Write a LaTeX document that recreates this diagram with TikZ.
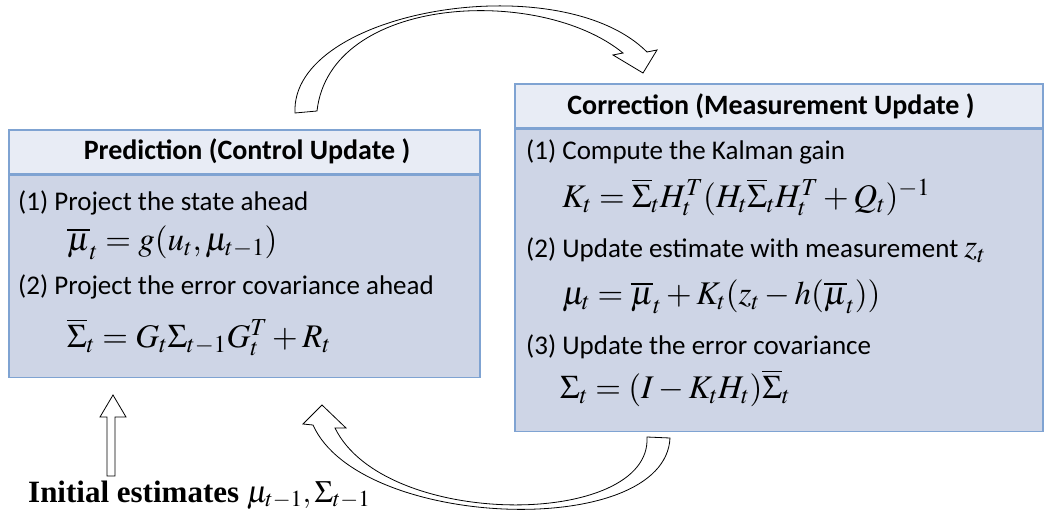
\documentclass[tikz,border=0pt]{standalone}
\usepackage{mathptmx}
\usepackage[no-math]{fontspec}
\newfontfamily\calib{Carlito}
\newfontfamily\timesrm{Liberation Serif}
\definecolor{boxline}{HTML}{7FA3D2}
\definecolor{headfill}{HTML}{E8ECF5}
\definecolor{bodyfill}{HTML}{CED5E6}
\tikzset{
  headbox/.style={draw=boxline,fill=headfill,line width=1.5pt,anchor=north west,inner sep=0pt},
  bodybox/.style={draw=boxline,fill=bodyfill,line width=1.5pt,anchor=north west,inner sep=0pt},
  headtext/.style={font=\calib\bfseries\fontsize{28}{31}\selectfont,inner sep=0pt},
  linetext/.style={font=\calib\fontsize{27}{30}\selectfont,anchor=west,inner sep=0pt},
  eqtext/.style={font=\fontsize{33}{36}\selectfont,anchor=west,inner sep=0pt},
  blockarrow/.style={draw=black,fill=white,line width=0.8pt,line join=miter},
}
\begin{document}
\begin{tikzpicture}[x=1pt,y=-1pt]
	\useasboundingbox (0,0) rectangle (1044,528);
	% prediction box
	\node[headbox,minimum width=471,minimum height=44] (predhead) at (8,129) {};
	\node[bodybox,minimum width=471,minimum height=202] (predbody) at (predhead.south west) {};
	\node[headtext] (predtitle) at (247,151) {Prediction (Control Update )};
	\node[linetext] (pred1) at (18,203) {(1) Project the state ahead};
	\node[eqtext] (predeq1) at (67,243) {$\overline{\mu}_t = g(u_t,\mu_{t-1})$};
	\node[linetext] (pred2) at (18,287) {(2) Project the error covariance ahead};
	\node[eqtext] (predeq2) at (67,337) {$\overline{\Sigma}_t = G_t\Sigma_{t-1}G_t^T + R_t$};
	% correction box
	\node[headbox,minimum width=528,minimum height=44] (corrhead) at (514,83) {};
	\node[bodybox,minimum width=528,minimum height=302] (corrbody) at (corrhead.south west) {};
	\node[headtext] (corrtitle) at (771,106) {Correction (Measurement Update )};
	\node[linetext] (corr1) at (526,152) {(1) Compute the Kalman gain};
	\node[eqtext] (correq1) at (562,197) {$K_t = \overline{\Sigma}_t H_t^T(H_t\overline{\Sigma}_t H_t^T + Q_t)^{-1}$};
	\node[linetext] (corr2) at (526,250) {(2) Update estimate with measurement {\fontsize{33}{36}\selectfont$z_t$}};
	\node[eqtext] (correq2) at (562,297) {$\mu_t = \overline{\mu}_t + K_t(z_t - h(\overline{\mu}_t))$};
	\node[linetext] (corr3) at (526,347) {(3) Update the error covariance};
	\node[eqtext] (correq3) at (560,388) {$\Sigma_t = (I - K_tH_t)\overline{\Sigma}_t$};
	% initial estimates
	\node[font=\timesrm\bfseries\fontsize{31}{34}\selectfont,anchor=west,inner sep=0pt] (init) at (28,495)
		{Initial estimates {\boldmath$\mu_{t-1},\Sigma_{t-1}$}};
	\draw[blockarrow] (107,476) -- (107,417) -- (100,417) -- (113,395) -- (126,417) -- (115,417) -- (115,476) -- cycle;
	% curved arrows
	\draw[blockarrow] (295,113) .. controls (290,10) and (560,-35) .. (647,52)
		-- (657,50) -- (643,73) -- (613,55) -- (623,53)
		.. controls (540,-15) and (330,-5) .. (317,111) -- cycle;
	\draw[blockarrow] (670,438) .. controls (665,540) and (360,530) .. (313,425)
		-- (303,424) -- (322,405) -- (346,428) -- (335,428)
		.. controls (385,530) and (652,528) .. (647,437) -- cycle;
\end{tikzpicture}
\end{document}
